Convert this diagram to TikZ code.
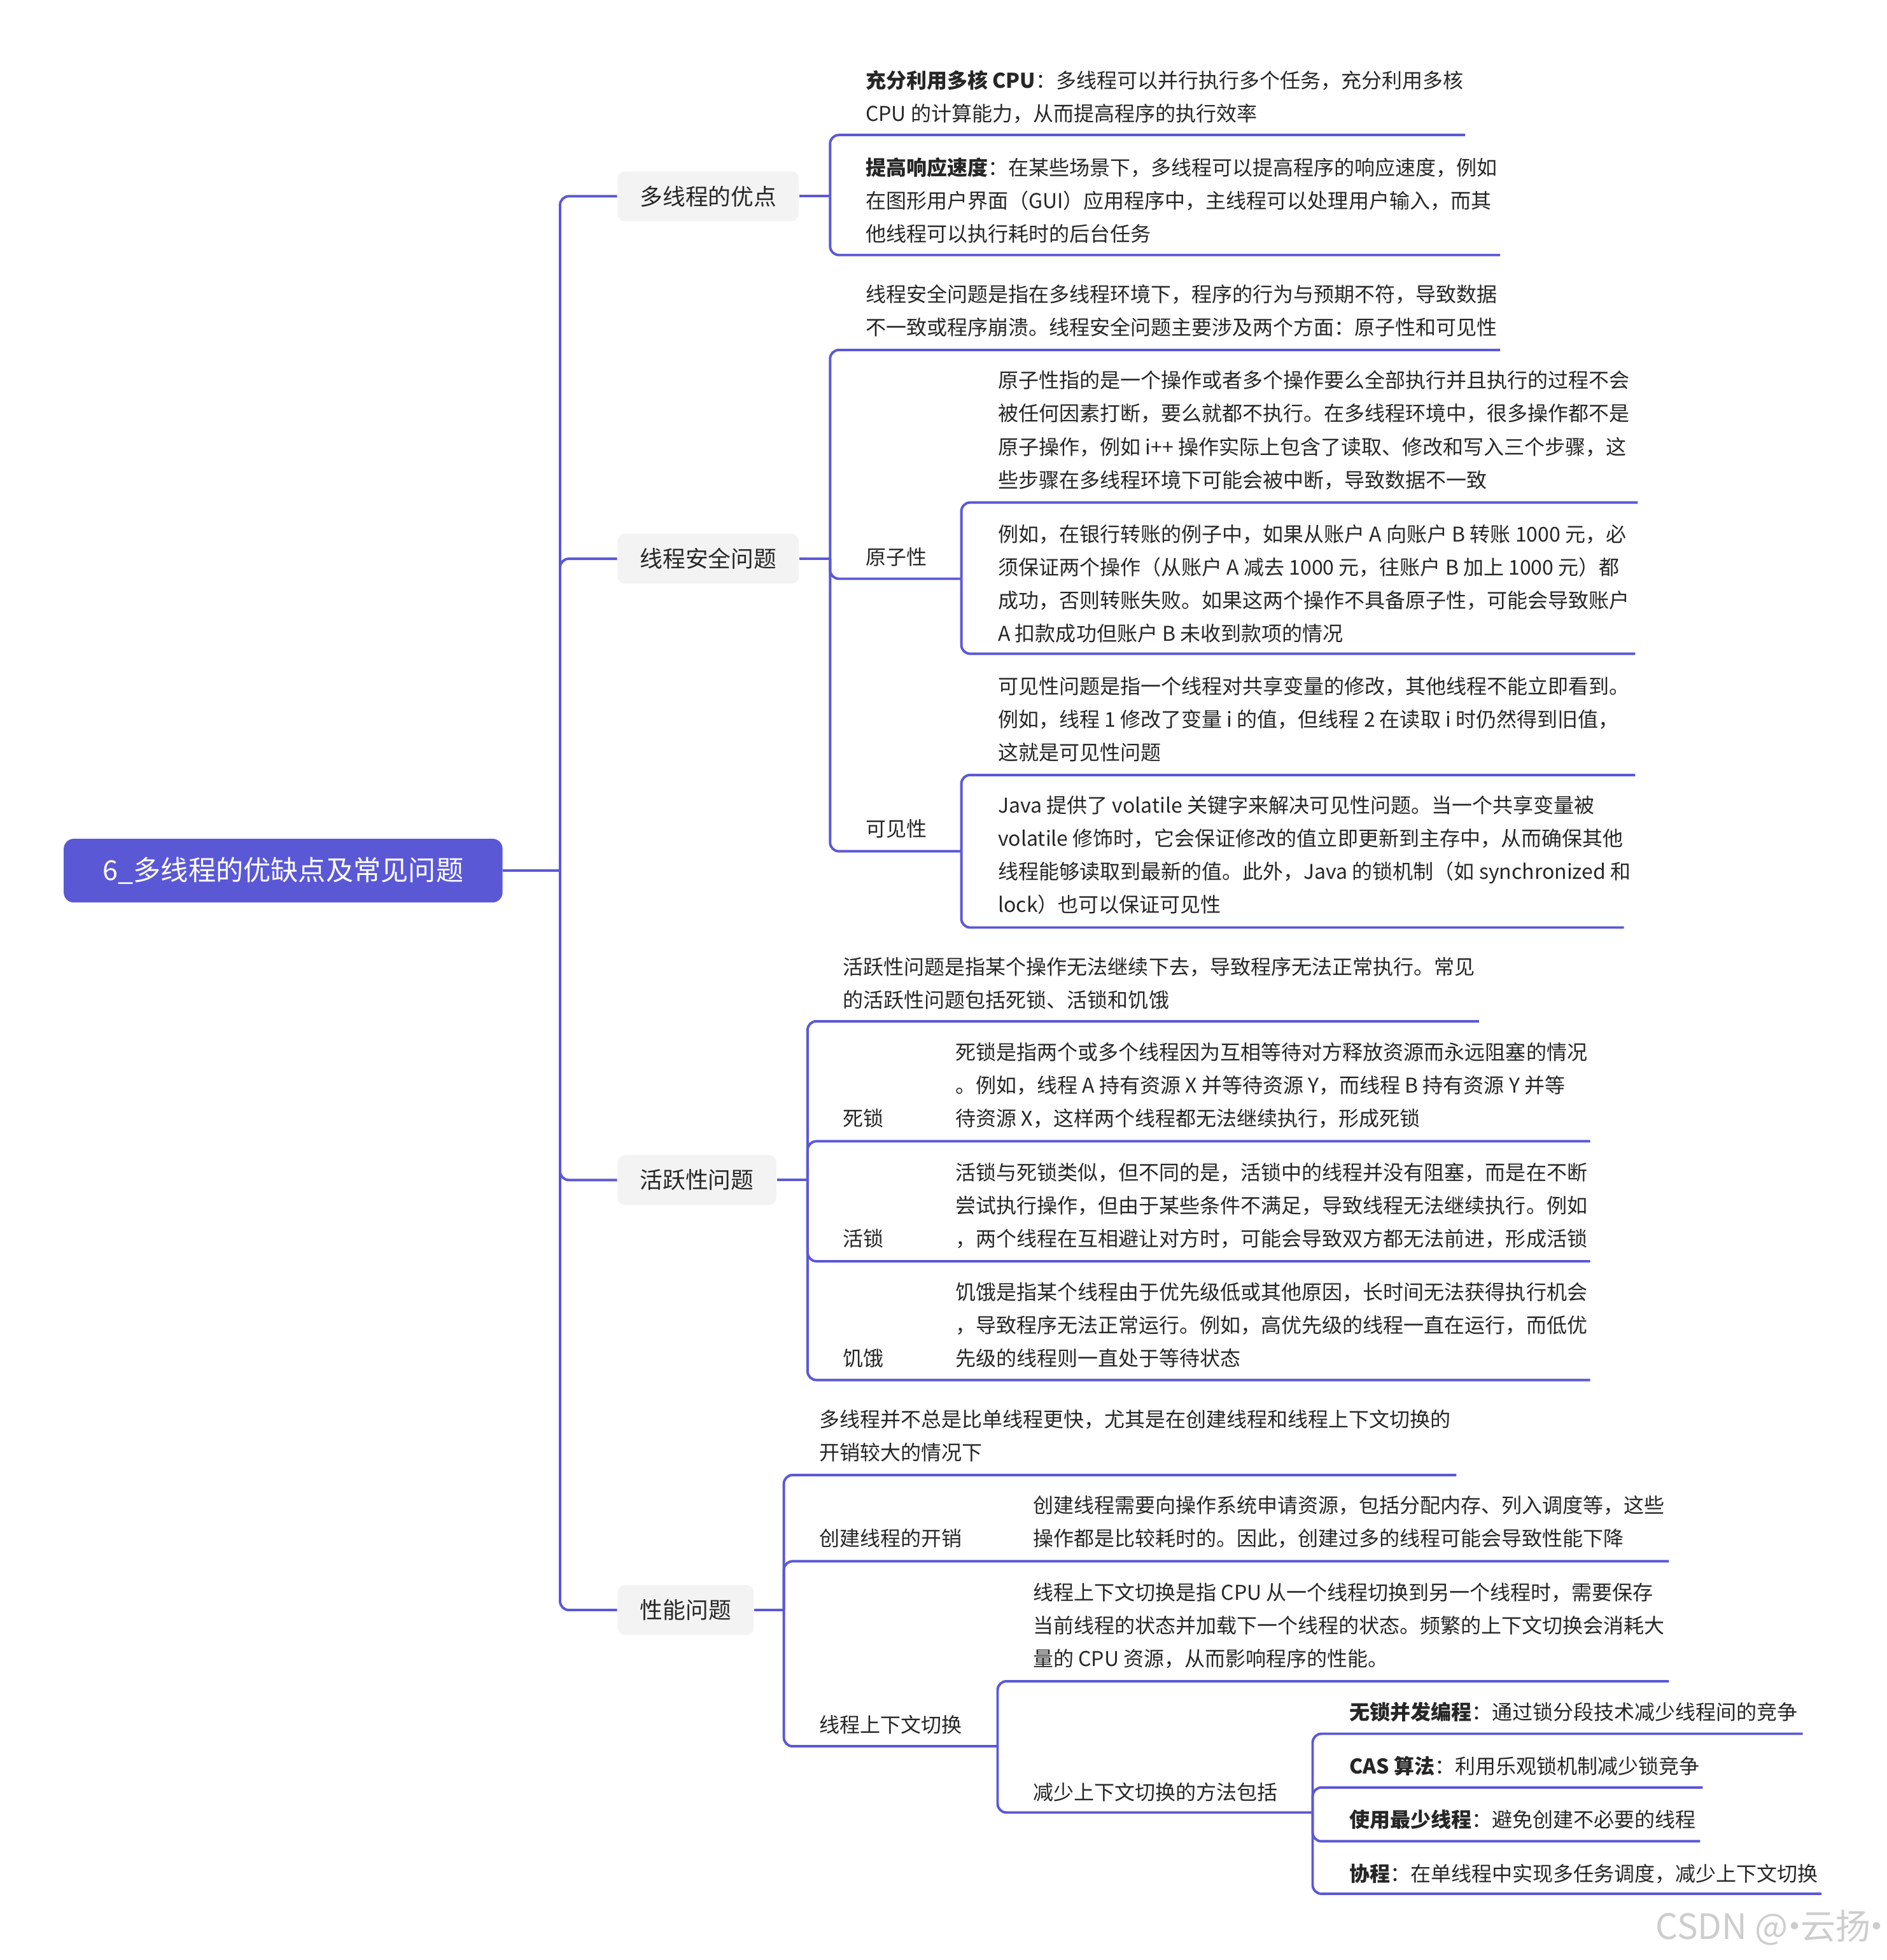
\documentclass[tikz,border=0pt]{standalone}
\usepackage{fontspec}
\setmainfont{Noto Sans CJK SC}
\definecolor{lc}{RGB}{91,88,214}
\definecolor{tc}{RGB}{38,38,38}
\definecolor{bx}{RGB}{243,243,243}
\definecolor{wm}{RGB}{205,205,205}
\begin{document}
\begin{tikzpicture}[x=0.5pt,y=-0.5pt,
  ln/.style={draw=lc,line width=1pt},
  rc/.style={rounded corners=3.5pt},
  txt/.style={inner sep=0pt,anchor=base west,align=left,text=tc,font=\fontsize{8.15}{13.25}\selectfont},
  lvl/.style={fill=bx,rounded corners=3pt,minimum height=20pt,text=tc,font=\fontsize{9.1}{11}\selectfont,inner sep=0pt},
]
\useasboundingbox (0,0) rectangle (1509,1568);

% root and level-1
\node[fill=lc,rounded corners=4pt,minimum width=175.5pt,minimum height=25.5pt,text=white,font=\fontsize{11}{13}\selectfont,inner sep=0pt] (root) at (226.5,696.5) {6\_多线程的优缺点及常见问题};
\node[lvl,minimum width=72.5pt] (b1) at (566.5,157) {多线程的优点};
\node[lvl,minimum width=72.5pt] (b2) at (566.5,447) {线程安全问题};
\node[lvl,minimum width=63.5pt] (b3) at (557.5,944) {活跃性问题};
\node[lvl,minimum width=54.5pt] (b4) at (548.5,1288) {性能问题};

\coordinate (j0) at (448,696.5);
\draw[ln] (root.east) -- (j0);
\draw[ln,rc] (j0) |- (b1.west);
\draw[ln,rc] (j0) |- (b2.west);
\draw[ln,rc] (j0) |- (b3.west);
\draw[ln,rc] (j0) |- (b4.west);

% ---------- A
\node[txt] (t11) at (692,97) {\textbf{充分利用多核 CPU}：多线程可以并行执行多个任务，充分利用多核\\CPU 的计算能力，从而提高程序的执行效率};
\node[txt] (t12) at (692,193) {\textbf{提高响应速度}：在某些场景下，多线程可以提高程序的响应速度，例如\\在图形用户界面（GUI）应用程序中，主线程可以处理用户输入，而其\\他线程可以执行耗时的后台任务};
\coordinate (j1) at (664,157);
\coordinate (e11) at (1172,108);
\coordinate (e12) at (1200,204);
\draw[ln] (b1.east) -- (j1);
\draw[ln,rc] (j1) |- (e11);
\draw[ln,rc] (j1) |- (e12);

% ---------- B
\node[txt] (t21) at (692,268) {线程安全问题是指在多线程环境下，程序的行为与预期不符，导致数据\\不一致或程序崩溃。线程安全问题主要涉及两个方面：原子性和可见性};
\node[txt] (l22) at (692,452) {原子性};
\node[txt] (t221) at (798,390) {原子性指的是一个操作或者多个操作要么全部执行并且执行的过程不会\\被任何因素打断，要么就都不执行。在多线程环境中，很多操作都不是\\原子操作，例如 i++ 操作实际上包含了读取、修改和写入三个步骤，这\\些步骤在多线程环境下可能会被中断，导致数据不一致};
\node[txt] (t222) at (798,513) {例如，在银行转账的例子中，如果从账户 A 向账户 B 转账 1000 元，必\\须保证两个操作（从账户 A 减去 1000 元，往账户 B 加上 1000 元）都\\成功，否则转账失败。如果这两个操作不具备原子性，可能会导致账户\\A 扣款成功但账户 B 未收到款项的情况};
\node[txt] (l23) at (692,669) {可见性};
\node[txt] (t231) at (798,608) {可见性问题是指一个线程对共享变量的修改，其他线程不能立即看到。\\例如，线程 1 修改了变量 i 的值，但线程 2 在读取 i 时仍然得到旧值，\\这就是可见性问题};
\node[txt] (t232) at (798,730) {Java 提供了 volatile 关键字来解决可见性问题。当一个共享变量被\\volatile 修饰时，它会保证修改的值立即更新到主存中，从而确保其他\\线程能够读取到最新的值。此外，Java 的锁机制（如 synchronized 和\\lock）也可以保证可见性};
\coordinate (j2) at (664,447);
\coordinate (e21) at (1200,280);
\coordinate (e22) at (769,463);
\coordinate (e23) at (769,681);
\coordinate (e221) at (1310,402);
\coordinate (e222) at (1308,523);
\coordinate (e231) at (1308,620);
\coordinate (e232) at (1299,742);
\draw[ln] (b2.east) -- (j2);
\draw[ln,rc] (j2) |- (e21);
\draw[ln,rc] (j2) |- (e22);
\draw[ln,rc] (j2) |- (e23);
\draw[ln,rc] (e22) |- (e221);
\draw[ln,rc] (e22) |- (e222);
\draw[ln,rc] (e23) |- (e231);
\draw[ln,rc] (e23) |- (e232);

% ---------- C
\node[txt] (t31) at (674,806) {活跃性问题是指某个操作无法继续下去，导致程序无法正常执行。常见\\的活跃性问题包括死锁、活锁和饥饿};
\node[txt] (l32) at (674,901) {死锁};
\node[txt] (t32) at (764,901) {死锁是指两个或多个线程因为互相等待对方释放资源而永远阻塞的情况\\。例如，线程 A 持有资源 X 并等待资源 Y，而线程 B 持有资源 Y 并等\\待资源 X，这样两个线程都无法继续执行，形成死锁};
\node[txt] (l33) at (674,997) {活锁};
\node[txt] (t33) at (764,997) {活锁与死锁类似，但不同的是，活锁中的线程并没有阻塞，而是在不断\\尝试执行操作，但由于某些条件不满足，导致线程无法继续执行。例如\\，两个线程在互相避让对方时，可能会导致双方都无法前进，形成活锁};
\node[txt] (l34) at (674,1093) {饥饿};
\node[txt] (t34) at (764,1093) {饥饿是指某个线程由于优先级低或其他原因，长时间无法获得执行机会\\，导致程序无法正常运行。例如，高优先级的线程一直在运行，而低优\\先级的线程则一直处于等待状态};
\coordinate (j3) at (646,944);
\coordinate (e31) at (1183,817);
\coordinate (e32) at (1272,913);
\coordinate (e33) at (1272,1009);
\coordinate (e34) at (1272,1104);
\draw[ln] (b3.east) -- (j3);
\draw[ln,rc] (j3) |- (e31);
\draw[ln,rc] (j3) |- (e32);
\draw[ln,rc] (j3) |- (e33);
\draw[ln,rc] (j3) |- (e34);

% ---------- D
\node[txt] (t41) at (655,1168) {多线程并不总是比单线程更快，尤其是在创建线程和线程上下文切换的\\开销较大的情况下};
\node[txt] (l42) at (655,1237) {创建线程的开销};
\node[txt] (t42) at (826,1237) {创建线程需要向操作系统申请资源，包括分配内存、列入调度等，这些\\操作都是比较耗时的。因此，创建过多的线程可能会导致性能下降};
\node[txt] (l43) at (655,1386) {线程上下文切换};
\node[txt] (t431) at (826,1333) {线程上下文切换是指 CPU 从一个线程切换到另一个线程时，需要保存\\当前线程的状态并加载下一个线程的状态。频繁的上下文切换会消耗大\\量的 CPU 资源，从而影响程序的性能。};
\node[txt] (l432) at (826,1440) {减少上下文切换的方法包括};
\node[txt] (t4321) at (1079,1376) {\textbf{无锁并发编程}：通过锁分段技术减少线程间的竞争};
\node[txt] (t4322) at (1079,1419) {\textbf{CAS 算法}：利用乐观锁机制减少锁竞争};
\node[txt] (t4323) at (1079,1462) {\textbf{使用最少线程}：避免创建不必要的线程};
\node[txt] (t4324) at (1079,1505) {\textbf{协程}：在单线程中实现多任务调度，减少上下文切换};
\coordinate (j4) at (627,1288);
\coordinate (e41) at (1165,1180);
\coordinate (e42) at (1335,1249);
\coordinate (e43) at (798,1397);
\coordinate (e431) at (1335,1345);
\coordinate (e432) at (1050,1450);
\coordinate (e4321) at (1442,1387);
\coordinate (e4322) at (1362,1430);
\coordinate (e4323) at (1360,1473);
\coordinate (e4324) at (1457,1515);
\draw[ln] (b4.east) -- (j4);
\draw[ln,rc] (j4) |- (e41);
\draw[ln,rc] (j4) |- (e42);
\draw[ln,rc] (j4) |- (e43);
\draw[ln,rc] (e43) |- (e431);
\draw[ln,rc] (e43) |- (e432);
\draw[ln,rc] (e432) |- (e4321);
\draw[ln,rc] (e432) |- (e4322);
\draw[ln,rc] (e432) |- (e4323);
\draw[ln,rc] (e432) |- (e4324);

% watermark
\node[anchor=west,inner sep=0pt,text=wm,font=\fontsize{14}{14}\selectfont] (wmk) at (1324,1542) {CSDN @\kern-4.5pt·\kern-4.5pt云扬\kern-4.5pt·};
\end{tikzpicture}
\end{document}
